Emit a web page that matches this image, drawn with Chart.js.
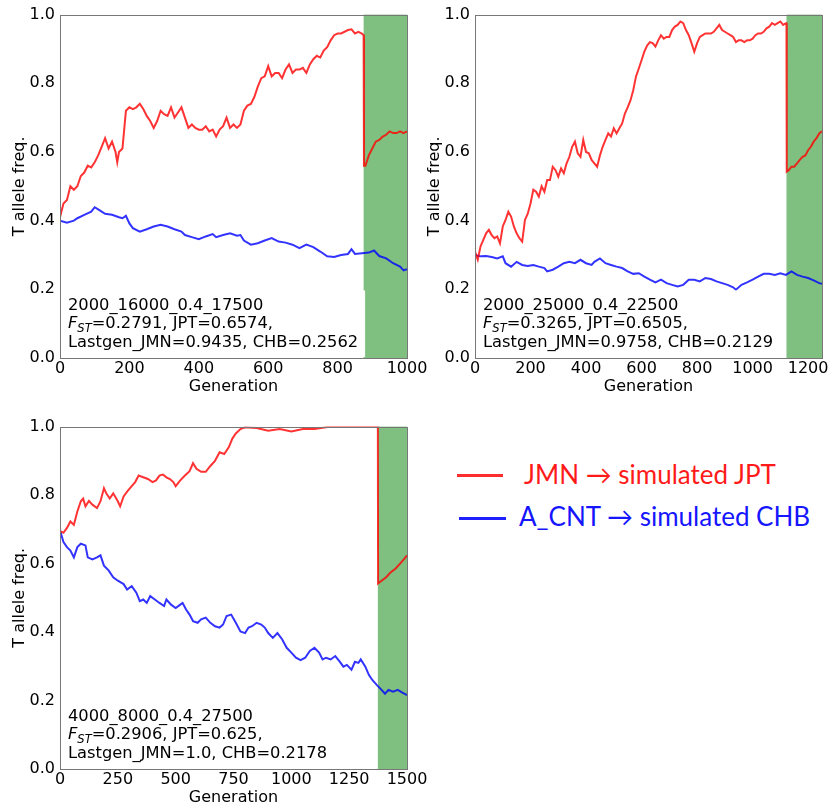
<!DOCTYPE html>
<html>
<head>
<meta charset="utf-8">
<script src="https://cdn.jsdelivr.net/npm/chart.js@4.4.0/dist/chart.umd.min.js"></script>
<style>
  html, body { margin: 0; padding: 0; background: #fff; overflow: hidden; }
  body { width: 829px; height: 808px; position: relative; }
  canvas { position: absolute; }
  .key { position: absolute; height: 3px; }
  .keytext { position: absolute; font-family: Lato, sans-serif; font-size: 26px; line-height: 26px; white-space: nowrap; }
</style>
</head>
<body>
<canvas id="c1" width="429" height="400" style="left:0;top:0"></canvas>
<canvas id="c2" width="429" height="400" style="left:415px;top:0"></canvas>
<canvas id="c3" width="429" height="396" style="left:0;top:412px"></canvas>

<div class="key" style="left:457px;top:474px;width:46px;background:#ff2e2e"></div>
<div class="keytext" style="left:524px;top:461px;color:#ff1a1a">JMN → simulated JPT</div>
<div class="key" style="left:459px;top:517px;width:47px;background:#2020ff"></div>
<div class="keytext" style="left:519px;top:503px;color:#1515ff">A_CNT → simulated CHB</div>

<script>
// axes
const yTicks = [0, 0.2, 0.4, 0.6, 0.8, 1.0];
const xTicks1 = [0, 200, 400, 600, 800, 1000];
const xTicks2 = [0, 200, 400, 600, 800, 1000, 1200];
const xTicks3 = [0, 250, 500, 750, 1000, 1250, 1500];
const xMax = [1000, 1250, 1500];
const greenFrom = [875, 1122, 1374];

// run labels
const runNames = ['2000_16000_0.4_17500', '2000_25000_0.4_22500', '4000_8000_0.4_27500'];
const fst = ['0.2791', '0.3265', '0.2906'];
const jpt = ['0.6574', '0.6505', '0.625'];
const lastgenJMN = ['0.9435', '0.9758', '1.0'];
const chb = ['0.2562', '0.2129', '0.2178'];

// panel 1 — JMN -> JPT (red)
const p1RedGen = [
  0,10,20,30,40,50,60,70,80,90,
  100,110,120,130,140,150,160,165,170,180,
  190,200,210,220,230,240,250,260,270,280,
  290,300,310,320,330,340,350,360,370,380,
  390,400,410,420,430,440,450,460,470,480,
  490,500,510,520,530,540,550,560,570,580,
  590,600,610,620,630,640,650,660,670,680,
  690,700,710,720,730,740,750,760,770,780,
  790,800,810,820,830,840,850,860,870,875,
  876,880,890,900,910,920,930,940,950,960,
  970,980,990,1000];
const p1RedVal = [
  0.41,0.45,0.46,0.50,0.49,0.50,0.53,0.54,0.56,0.555,
  0.57,0.59,0.615,0.64,0.61,0.63,0.60,0.57,0.60,0.61,
  0.72,0.73,0.725,0.73,0.74,0.725,0.705,0.69,0.67,0.69,
  0.72,0.71,0.705,0.73,0.70,0.715,0.73,0.70,0.67,0.68,
  0.67,0.665,0.665,0.675,0.66,0.665,0.645,0.665,0.675,0.70,
  0.67,0.68,0.67,0.68,0.72,0.735,0.74,0.76,0.79,0.815,
  0.82,0.85,0.82,0.83,0.83,0.815,0.84,0.855,0.83,0.84,
  0.84,0.845,0.83,0.855,0.87,0.88,0.875,0.895,0.905,0.925,
  0.94,0.945,0.945,0.95,0.955,0.957,0.945,0.95,0.945,0.94,
  0.56,0.56,0.59,0.61,0.63,0.635,0.645,0.65,0.66,0.655,
  0.655,0.66,0.655,0.66];
// panel 1 — A_CNT -> CHB (blue)
const p1BlueGen = [
  0,20,40,50,70,90,100,110,130,150,
  170,180,190,200,210,230,250,270,290,310,
  330,350,360,380,400,420,440,450,470,490,
  510,520,530,550,570,590,610,630,650,670,
  690,710,730,750,770,790,810,830,840,850,
  870,890,905,920,940,960,980,990,1000];
const p1BlueVal = [
  0.40,0.394,0.40,0.407,0.417,0.426,0.439,0.433,0.42,0.417,
  0.41,0.407,0.414,0.392,0.378,0.368,0.375,0.383,0.388,0.383,
  0.375,0.368,0.358,0.352,0.346,0.354,0.361,0.352,0.358,0.363,
  0.356,0.358,0.342,0.33,0.334,0.342,0.349,0.339,0.336,0.33,
  0.32,0.33,0.323,0.31,0.296,0.294,0.30,0.303,0.317,0.303,
  0.305,0.307,0.313,0.297,0.29,0.276,0.266,0.255,0.259];

// panel 2 — red
const p2RedGen = [
  0,10,20,30,40,50,60,70,80,90,
  100,110,120,130,140,150,160,170,180,190,
  200,210,220,230,240,250,260,270,280,290,
  300,310,320,330,340,350,360,370,380,390,
  400,410,420,430,440,450,460,470,480,490,
  500,510,520,530,540,550,560,570,580,590,
  600,610,620,630,640,650,660,670,680,690,
  700,710,720,730,740,750,760,770,780,790,
  800,810,820,830,840,850,860,870,880,890,
  900,910,920,930,940,950,960,970,980,990,
  1000,1010,1020,1030,1040,1050,1060,1070,1080,1090,
  1100,1110,1120,1122,1123,1130,1140,1150,1160,1170,
  1180,1190,1200,1210,1220,1230,1240,1250];
const p2RedVal = [
  0.31,0.286,0.325,0.344,0.363,0.373,0.358,0.349,0.354,0.334,
  0.383,0.402,0.426,0.412,0.383,0.363,0.349,0.339,0.402,0.42,
  0.45,0.49,0.484,0.47,0.50,0.484,0.518,0.518,0.557,0.547,
  0.528,0.552,0.538,0.567,0.586,0.615,0.63,0.596,0.586,0.635,
  0.60,0.596,0.577,0.567,0.557,0.59,0.615,0.635,0.654,0.645,
  0.669,0.654,0.669,0.683,0.712,0.73,0.75,0.78,0.82,0.843,
  0.867,0.892,0.91,0.92,0.917,0.907,0.925,0.94,0.93,0.935,
  0.935,0.955,0.965,0.97,0.98,0.975,0.955,0.94,0.917,0.892,
  0.917,0.935,0.94,0.945,0.945,0.945,0.95,0.96,0.97,0.955,
  0.95,0.945,0.94,0.935,0.92,0.925,0.925,0.92,0.925,0.925,
  0.93,0.94,0.945,0.945,0.95,0.96,0.965,0.975,0.97,0.975,
  0.98,0.97,0.975,0.975,0.543,0.547,0.557,0.557,0.567,0.577,
  0.586,0.59,0.605,0.615,0.63,0.64,0.654,0.66];
// panel 2 — blue
const p2BlueGen = [
  0,20,40,60,80,100,110,130,150,170,
  190,210,230,250,260,280,300,320,340,360,
  380,400,420,430,450,470,490,510,530,550,
  570,590,610,630,650,670,690,710,730,750,
  770,790,810,830,850,870,890,910,930,940,
  960,980,1000,1020,1040,1060,1080,1100,1120,1140,
  1160,1180,1200,1220,1240,1250];
const p2BlueVal = [
  0.30,0.296,0.297,0.294,0.29,0.296,0.276,0.266,0.28,0.271,
  0.268,0.271,0.266,0.262,0.252,0.257,0.266,0.276,0.28,0.276,
  0.286,0.276,0.271,0.28,0.29,0.276,0.271,0.266,0.262,0.252,
  0.245,0.247,0.237,0.228,0.22,0.228,0.218,0.213,0.208,0.213,
  0.228,0.228,0.223,0.233,0.23,0.223,0.218,0.213,0.206,0.199,
  0.213,0.22,0.228,0.237,0.245,0.245,0.242,0.247,0.242,0.252,
  0.242,0.237,0.233,0.226,0.218,0.216];

// panel 3 — red
const p3RedGen = [
  0,15,30,45,60,75,90,100,110,125,
  140,160,175,190,200,215,230,250,260,275,
  290,310,325,340,360,380,400,415,430,445,
  460,475,490,500,520,540,560,575,590,610,
  630,650,670,690,710,730,745,760,780,800,
  850,900,950,1000,1050,1100,1150,1170,1374,1375,
  1390,1410,1430,1450,1470,1490,1500];
const p3RedVal = [
  0.695,0.69,0.704,0.723,0.713,0.752,0.782,0.79,0.767,0.783,
  0.772,0.762,0.782,0.82,0.805,0.79,0.805,0.782,0.767,0.796,
  0.81,0.826,0.838,0.857,0.852,0.847,0.838,0.843,0.857,0.86,
  0.852,0.847,0.838,0.826,0.843,0.857,0.87,0.893,0.877,0.868,
  0.868,0.885,0.90,0.925,0.92,0.94,0.965,0.98,0.993,0.998,
  0.996,0.988,0.993,0.986,0.993,0.993,0.998,1.0,1.0,0.542,
  0.55,0.56,0.575,0.585,0.60,0.615,0.624];
// panel 3 — blue
const p3BlueGen = [
  0,15,30,45,60,75,90,110,120,140,
  160,175,190,210,230,250,275,290,310,330,
  345,360,375,390,410,430,450,460,480,500,
  520,530,545,560,575,595,610,630,650,670,
  690,705,720,740,760,780,800,815,830,850,
  870,885,900,920,940,960,980,1000,1020,1040,
  1060,1080,1100,1120,1135,1150,1170,1190,1210,1225,
  1240,1260,1275,1290,1300,1320,1335,1350,1370,1390,
  1405,1420,1440,1460,1480,1500];
const p3BlueVal = [
  0.697,0.663,0.648,0.638,0.618,0.648,0.658,0.653,0.618,0.612,
  0.618,0.624,0.594,0.58,0.56,0.55,0.54,0.524,0.534,0.515,
  0.49,0.495,0.485,0.505,0.495,0.485,0.476,0.495,0.48,0.47,
  0.48,0.485,0.466,0.451,0.432,0.427,0.437,0.442,0.427,0.417,
  0.413,0.422,0.447,0.451,0.427,0.402,0.397,0.413,0.417,0.427,
  0.422,0.413,0.397,0.383,0.397,0.379,0.354,0.34,0.325,0.318,
  0.325,0.345,0.354,0.34,0.32,0.325,0.32,0.33,0.313,0.299,
  0.304,0.29,0.313,0.31,0.32,0.299,0.275,0.26,0.245,0.231,
  0.22,0.231,0.226,0.231,0.223,0.216];

const RED = 'rgba(255, 0, 0, 0.8)';
const BLUE = 'rgba(0, 0, 255, 0.8)';
const GREEN = 'rgba(0, 128, 0, 0.5)';
const FONT = "'DejaVu Sans', sans-serif";
const NOTE_SIZE = 16.3;

const pts = (g, v) => g.map((x, i) => ({ x, y: v[i] }));

// green shading, note box and frame
const panelDeco = {
  id: 'panelDeco',
  beforeDatasetsDraw(chart, args, opts) {
    const { ctx, chartArea: a, scales: { x } } = chart;
    const x0 = x.getPixelForValue(opts.greenFrom);
    ctx.save();
    ctx.fillStyle = GREEN;
    ctx.fillRect(x0, a.top, a.right - x0, a.bottom - a.top);
    ctx.restore();
  },
  afterDatasetsDraw(chart, args, opts) {
    const { ctx, chartArea: a } = chart;
    const i = opts.idx;
    const tx = a.left + 8;
    const lh = 18.5;
    const b3 = a.bottom - 11.5;
    const b2 = b3 - lh;
    const b1 = b2 - lh;
    ctx.save();
    ctx.font = NOTE_SIZE + 'px ' + FONT;
    const l1 = runNames[i];
    const l3 = 'Lastgen_JMN=' + lastgenJMN[i] + ', CHB=' + chb[i];
    const w = Math.max(ctx.measureText(l1).width, ctx.measureText(l3).width);
    ctx.fillStyle = '#fff';
    ctx.fillRect(a.left + 1, b1 - 19, tx + w + 7 - a.left - 1, a.bottom - (b1 - 19) - 1);
    ctx.fillStyle = '#000';
    ctx.textBaseline = 'alphabetic';
    ctx.fillText(l1, tx, b1);
    ctx.fillText(l3, tx, b3);
    // F_ST line
    ctx.font = 'italic ' + NOTE_SIZE + 'px ' + FONT;
    ctx.fillText('F', tx, b2);
    let cx = tx + ctx.measureText('F').width;
    ctx.font = 'italic 11.5px ' + FONT;
    ctx.fillText('ST', cx, b2 + 4);
    cx += ctx.measureText('ST').width;
    ctx.font = NOTE_SIZE + 'px ' + FONT;
    ctx.fillText('=' + fst[i] + ', JPT=' + jpt[i] + ',', cx, b2);
    ctx.restore();
  },
  afterDraw(chart) {
    const { ctx, chartArea: a } = chart;
    ctx.save();
    ctx.strokeStyle = '#777';
    ctx.lineWidth = 1;
    ctx.strokeRect(Math.round(a.left) + 0.5, Math.round(a.top) + 0.5,
      Math.round(a.right - a.left), Math.round(a.bottom - a.top));
    ctx.restore();
  }
};

function makePanel(id, idx, red, blue, xTicks, axisH, titlePad) {
  new Chart(document.getElementById(id), {
    type: 'line',
    data: {
      datasets: [
        { data: red, borderColor: RED, borderWidth: 2, pointRadius: 0, tension: 0, fill: false },
        { data: blue, borderColor: BLUE, borderWidth: 2, pointRadius: 0, tension: 0, fill: false }
      ]
    },
    options: {
      responsive: false,
      animation: false,
      devicePixelRatio: 1,
      layout: { padding: { top: 14, right: 22, left: 0, bottom: 0 } },
      plugins: {
        legend: { display: false },
        tooltip: { enabled: false },
        panelDeco: { greenFrom: greenFrom[idx], idx: idx }
      },
      scales: {
        x: {
          type: 'linear',
          min: 0,
          max: xMax[idx],
          afterBuildTicks: s => { s.ticks = xTicks.map(v => ({ value: v })); },
          afterFit: s => { s.height = axisH; },
          grid: { display: false, drawTicks: false },
          border: { display: false },
          ticks: { color: '#000', font: { family: FONT, size: 16 }, padding: 1, maxRotation: 0, autoSkip: false, callback: v => String(v) },
          title: { display: true, text: 'Generation', color: '#000', font: { family: FONT, size: 16 }, padding: { top: 0, bottom: titlePad } }
        },
        y: {
          min: 0,
          max: 1,
          afterBuildTicks: s => { s.ticks = yTicks.map(v => ({ value: v })); },
          afterFit: s => { s.width = 60; },
          grid: { display: false, drawTicks: false },
          border: { display: false },
          ticks: { color: '#000', font: { family: FONT, size: 16 }, padding: 5, callback: v => v.toFixed(1) },
          title: { display: true, text: 'T allele freq.', color: '#000', font: { family: FONT, size: 16 }, padding: { top: 10, bottom: 0 } }
        }
      }
    },
    plugins: [panelDeco]
  });
}

makePanel('c1', 0, pts(p1RedGen, p1RedVal), pts(p1BlueGen, p1BlueVal), xTicks1, 42, 3.4);
makePanel('c2', 1, pts(p2RedGen, p2RedVal), pts(p2BlueGen, p2BlueVal), xTicks2, 42, 3.4);
makePanel('c3', 2, pts(p3RedGen, p3RedVal), pts(p3BlueGen, p3BlueVal), xTicks3, 39, 0.4);
</script>
</body>
</html>
